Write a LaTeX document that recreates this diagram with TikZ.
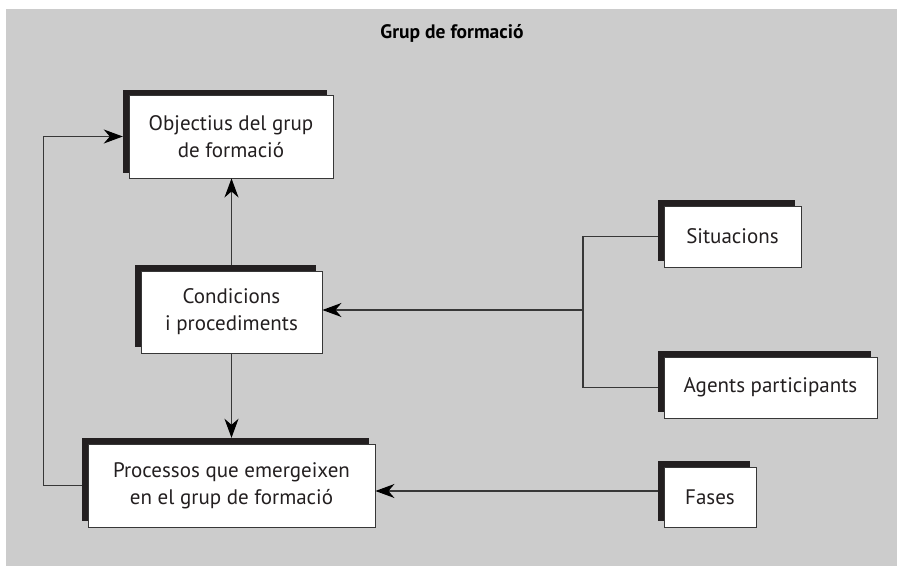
\documentclass[tikz,border=0pt]{standalone}
\usepackage{fontspec}
\setmainfont{PT Sans}
\usetikzlibrary{arrows.meta}
\definecolor{bgc}{RGB}{204,204,204}
\definecolor{shc}{RGB}{35,31,32}
\definecolor{txc}{RGB}{35,31,32}
\definecolor{lnc}{RGB}{55,55,55}
\begin{document}
\begin{tikzpicture}[x=1pt,y=-1pt,
  wbox/.style={draw=lnc, line width=0.9pt, fill=white, inner sep=0pt, align=center,
     text=txc, font=\fontsize{21}{27}\selectfont},
  sbox/.style={fill=shc, inner sep=0pt},
  conn/.style={draw=lnc, line width=1.1pt},
  arr/.style={conn, -{Stealth[length=19pt,width=14pt,inset=6pt,fill=black,color=black]}}]
\useasboundingbox (0,0) rectangle (903,570);
\fill[bgc] (6,9) rectangle (897,566);
\node[font=\fontsize{19.5}{23}\bfseries\selectfont, text=black] (title) at (452,33) {Grup de formació};
% shadows
\node[sbox, minimum width=204pt, minimum height=83pt] (objS)  at (225,131.5) {};
\node[sbox, minimum width=181pt, minimum height=82pt] (condS) at (225.5,306) {};
\node[sbox, minimum width=287pt, minimum height=83pt] (procS) at (225.5,479.5) {};
\node[sbox, minimum width=137pt, minimum height=61pt] (sitS)  at (726.5,230.5) {};
\node[sbox, minimum width=213pt, minimum height=61pt] (agS)   at (764.5,381.5) {};
\node[sbox, minimum width=92pt,  minimum height=60pt] (fasS)  at (704,491) {};
% boxes
\node[wbox, minimum width=204pt, minimum height=83pt] (obj)  at (231,136.5) {Objectius del grup\\de formació};
\node[wbox, minimum width=181pt, minimum height=82pt] (cond) at (231.5,312) {Condicions\\i procediments};
\node[wbox, minimum width=287pt, minimum height=83pt] (proc) at (231.5,485.5) {Processos que emergeixen\\en el grup de formació};
\node[wbox, minimum width=137pt, minimum height=61pt] (sit)  at (732.5,236.5) {Situacions};
\node[wbox, minimum width=213pt, minimum height=61pt] (ag)   at (770.5,387.5) {Agents participants};
\node[wbox, minimum width=92pt,  minimum height=60pt] (fas)  at (710,497) {Fases};
% connectors
\coordinate (br) at (583,310);
\draw[arr] (procS.west |- proc.center) -- ++(-38,0) |- (objS.west |- obj.center);
\draw[arr] (cond.north |- condS.north) -- (obj.south -| cond.north);
\draw[arr] (cond.south) -- (cond.south |- procS.north);
\draw[conn] (sitS.west |- sit.center) -| (br) |- (agS.west |- ag.center);
\draw[arr] (br) -- (cond.east |- br);
\draw[arr] (fasS.west) -- (proc.east |- fasS.west);
\end{tikzpicture}
\end{document}
